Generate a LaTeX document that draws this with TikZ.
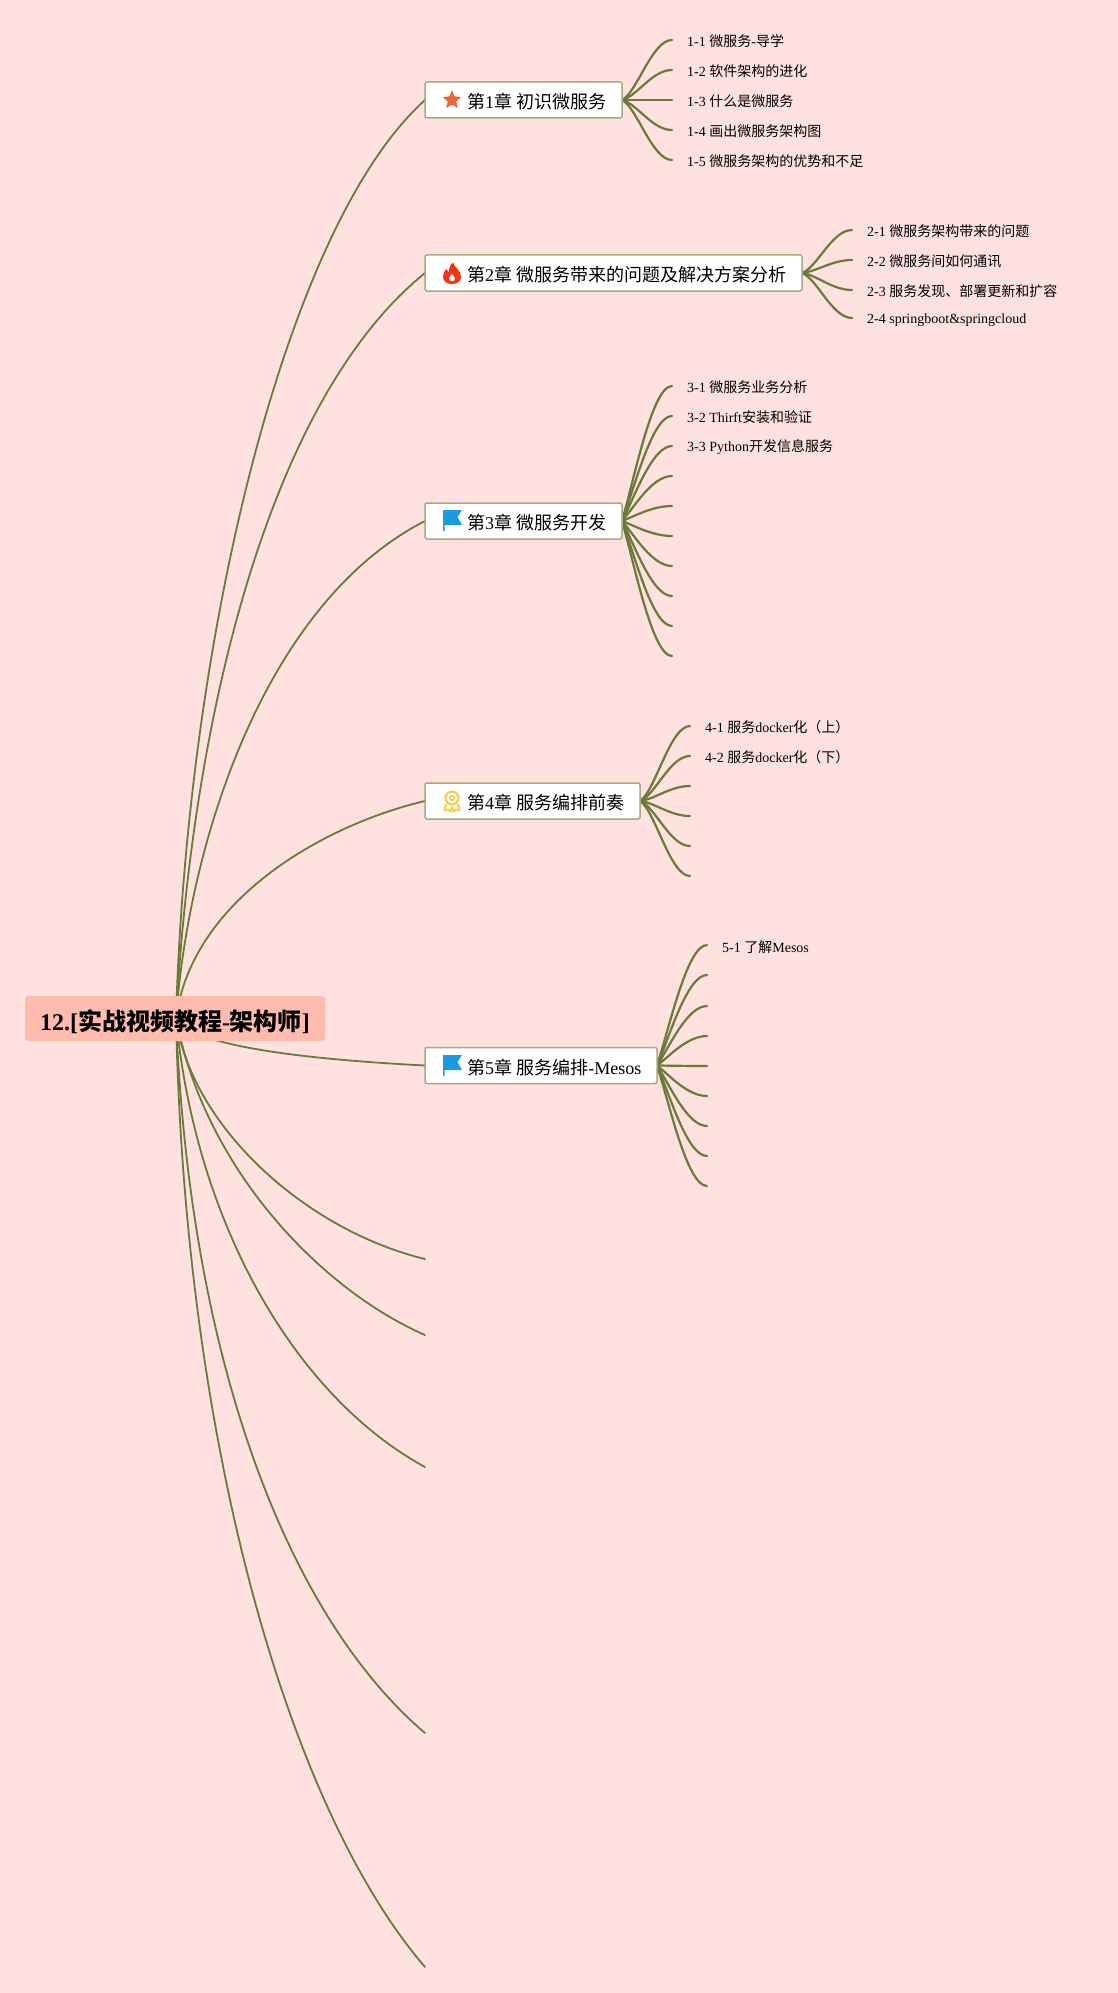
\documentclass[tikz,border=0pt]{standalone}
\usepackage{fontspec}
\setmainfont{Liberation Serif}
\newfontfamily\cjk{Noto Sans CJK SC}
\newcommand{\zh}[1]{{\cjk #1}}
\usetikzlibrary{backgrounds}
\definecolor{bgpink}{RGB}{255,225,224}
\definecolor{rootfill}{RGB}{255,188,174}
\definecolor{olive}{RGB}{107,122,58}
\definecolor{boxline}{RGB}{170,168,130}
\definecolor{flagblue}{RGB}{26,155,224}
\definecolor{starorange}{RGB}{232,104,58}
\definecolor{flamered}{RGB}{250,48,20}
\definecolor{medalyellow}{RGB}{250,205,70}
\tikzset{
  rootbox/.style={fill=rootfill,rounded corners=3pt,outer sep=0pt,minimum width=300pt,minimum height=45pt,inner sep=0pt,font=\fontsize{24}{28}\selectfont\bfseries},
  chapbox/.style={draw=boxline,fill=white,line width=1.5pt,rounded corners=2pt,outer sep=0pt,anchor=west,minimum height=36pt,inner xsep=0pt,inner ysep=0pt,text width=#1,align=left,font=\fontsize{18}{22}\selectfont},
  leaf/.style={anchor=west,inner sep=0pt,font=\fontsize{14}{17}\selectfont},
  branch/.style={draw=olive,line width=1.8pt,line cap=round},
  twig/.style={draw=olive,line width=2.2pt,line cap=round},
}
\newcommand{\chaptxt}[1]{\hspace*{42pt}\raisebox{-8.6pt}[0pt][0pt]{#1}}
\newcommand{\gap}{\hspace{4.4pt}}
\begin{document}
\begin{tikzpicture}[x=1pt,y=-1pt]
\useasboundingbox (0,0) rectangle (1118,1993);
\begin{scope}[on background layer]
\fill[bgpink] (0,0) rectangle (1118,1993);
\end{scope}
% root
\node[rootbox] (root) at (175,1018.5) {\raisebox{-12pt}[0pt][0pt]{12.[\zh{实战视频教程}-\zh{架构师}]}};
% chapters
\node[chapbox=197pt] (c1) at (425,100) {\chaptxt{\zh{第}1\zh{章}\gap\zh{初识微服务}}};
\node[chapbox=377pt] (c2) at (425,273) {\chaptxt{\zh{第}2\zh{章}\gap\zh{微服务带来的问题及解决方案分析}}};
\node[chapbox=197pt] (c3) at (425,521) {\chaptxt{\zh{第}3\zh{章}\gap\zh{微服务开发}}};
\node[chapbox=215pt] (c4) at (425,801) {\chaptxt{\zh{第}4\zh{章}\gap\zh{服务编排前奏}}};
\node[chapbox=232pt] (c5) at (425,1065.5) {\chaptxt{\zh{第}5\zh{章}\gap\zh{服务编排}-Mesos}};
% free ends of the empty chapters
\coordinate (c6) at (425,1259);
\coordinate (c7) at (425,1335);
\coordinate (c8) at (425,1467);
\coordinate (c9) at (425,1733);
\coordinate (c10) at (425,1967);
\coordinate (hub) at (176,1018);
% leaves
\node[leaf] (l11) at (687,41) {1-1 \zh{微服务}-\zh{导学}};
\node[leaf] (l12) at (687,71) {1-2 \zh{软件架构的进化}};
\node[leaf] (l13) at (687,101) {1-3 \zh{什么是微服务}};
\node[leaf] (l14) at (687,131) {1-4 \zh{画出微服务架构图}};
\node[leaf] (l15) at (687,161) {1-5 \zh{微服务架构的优势和不足}};
\node[leaf] (l21) at (867,231) {2-1 \zh{微服务架构带来的问题}};
\node[leaf] (l22) at (867,261) {2-2 \zh{微服务间如何通讯}};
\node[leaf] (l23) at (867,291) {2-3 \zh{服务发现、部署更新和扩容}};
\node[leaf] (l24) at (867,320.5) {2-4 springboot\&springcloud};
\node[leaf] (l31) at (687,387) {3-1 \zh{微服务业务分析}};
\node[leaf] (l32) at (687,417) {3-2 Thirft\zh{安装和验证}};
\node[leaf] (l33) at (687,447) {3-3 Python\zh{开发信息服务}};
\node[leaf] (l41) at (705,727) {4-1 \zh{服务}docker\zh{化（上）}};
\node[leaf] (l42) at (705,757) {4-2 \zh{服务}docker\zh{化（下）}};
\node[leaf] (l51) at (722,947) {5-1 \zh{了解}Mesos};
% icons
\fill[rounded corners=0.8pt,starorange]
  (452,90) -- (454.6,96.5) -- (461.5,97) -- (456.2,101.4) -- (458,108.2) -- (452,104.5) -- (446,108.2) -- (447.8,101.4) -- (442.5,97) -- (449.4,96.5) -- cycle;
\fill[flamered,even odd rule]
  (453,262.5) .. controls (454,267) and (461,270) .. (461,277) .. controls (461,281.5) and (457,284) .. (452,284) .. controls (447,284) and (443,281.5) .. (443,276.5) .. controls (443,273) and (445,271) .. (446.5,268.5) .. controls (447,270.5) and (448,271.5) .. (449,272) .. controls (449,268) and (450,265) .. (453,262.5) -- cycle
  (452,281.5) .. controls (450,281.5) and (449,280) .. (449,278.5) .. controls (449,277) and (451,275.5) .. (452,273.5) .. controls (453,275.5) and (455,277) .. (455,278.5) .. controls (455,280) and (454,281.5) .. (452,281.5) -- cycle;
\foreach \n/\y in {3/510,5/1055}{
  \fill[flagblue] (443,\y) -- (462,\y) -- (457.5,\y+7) -- (462,\y+15) -- (444.5,\y+15) -- (444.5,\y+21) -- (443,\y+21) -- cycle;
}
\begin{scope}[draw=medalyellow]
\draw[line width=2pt] (452,798) circle (6.5);
\draw[line width=1.6pt] (452,798) circle (2.2);
\draw[line width=2pt,line join=round] (446,804) -- (444.5,810.5) -- (448,809.5) -- (450.5,811.5) -- (452,807) -- (453.5,811.5) -- (456,809.5) -- (459.5,810.5) -- (458,804);
\end{scope}
% connectors
\begin{scope}[on background layer]
\draw[branch] (hub) .. controls (187,640) and (285,226) .. (c1.west);
\draw[branch] (hub) .. controls (192,720) and (268,400) .. (c2.west);
\draw[branch] (hub) .. controls (190,830) and (270,600) .. (c3.west);
\draw[branch] (hub) .. controls (192,900) and (323,825) .. (c4.west);
\draw[branch] (hub) .. controls (192,1048) and (320,1060) .. (c5.west);
\draw[branch] (hub) .. controls (190,1125) and (305,1230) .. (c6);
\draw[branch] (hub) .. controls (205,1170) and (322,1290) .. (c7);
\draw[branch] (hub) .. controls (195,1220) and (293,1395) .. (c8);
\draw[branch] (hub) .. controls (190,1370) and (292,1620) .. (c9);
\draw[branch] (hub) .. controls (185,1450) and (290,1810) .. (c10);
\foreach \i/\y in {1/40,2/70,3/100,4/130,5/160}{
  \coordinate (e1\i) at (672,\y);
  \draw[twig] (c1.east) .. controls +(15,{0.12*(\y-100)}) and +(-20,0) .. (e1\i);
}
\foreach \i/\y in {1/230,2/260,3/290,4/318}{
  \coordinate (e2\i) at (852,\y);
  \draw[twig] (c2.east) .. controls +(15,{0.12*(\y-273)}) and +(-20,0) .. (e2\i);
}
\foreach \i/\y in {1/386,2/416,3/446,4/476,5/506,6/536,7/566,8/596,9/626,10/656}{
  \coordinate (e3\i) at (672,\y);
  \draw[twig] (c3.east) .. controls +(12,{0.3*(\y-521)}) and +(-20,0) .. (e3\i);
}
\foreach \i/\y in {1/726,2/756,3/786,4/816,5/846,6/876}{
  \coordinate (e4\i) at (690,\y);
  \draw[twig] (c4.east) .. controls +(15,{0.12*(\y-801)}) and +(-20,0) .. (e4\i);
}
\foreach \i/\y in {1/945,2/975,3/1006,4/1036,5/1066,6/1096,7/1126,8/1156,9/1186}{
  \coordinate (e5\i) at (707,\y);
  \draw[twig] (c5.east) .. controls +(12,{0.3*(\y-1065.5)}) and +(-20,0) .. (e5\i);
}
\end{scope}
\end{tikzpicture}
\end{document}
